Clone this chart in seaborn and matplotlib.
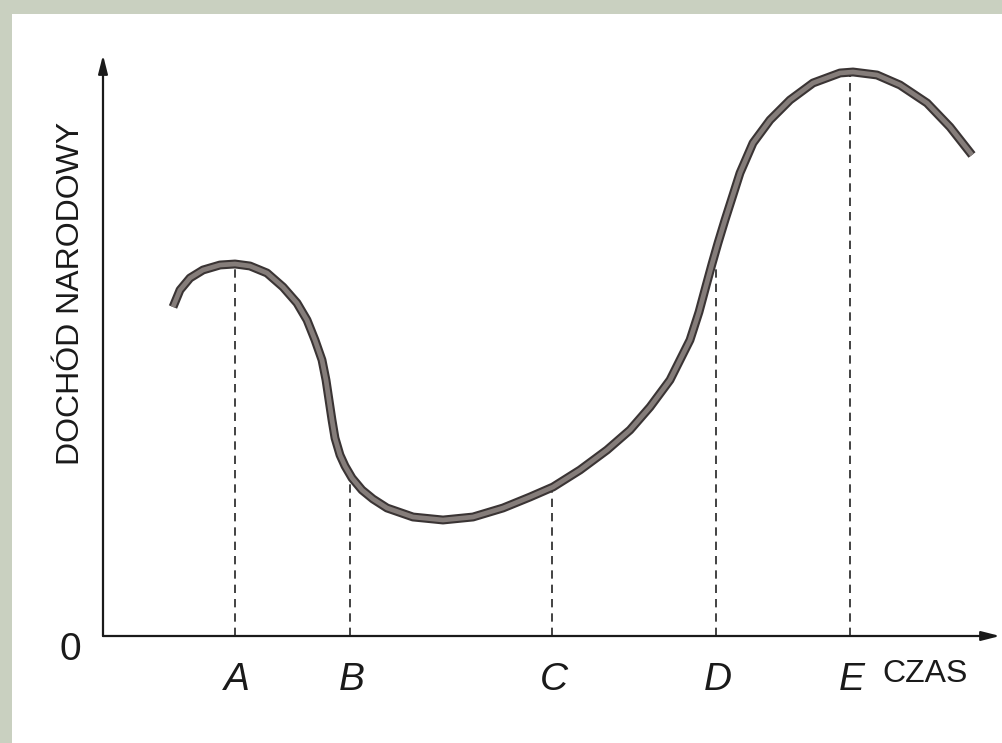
import pandas as pd
import numpy as np
import matplotlib.pyplot as plt
import matplotlib.patheffects as pe
import seaborn as sns

# curve (time -> national income, arbitrary units)
time_pts = [70, 77, 87, 100, 117, 132, 147, 164, 180, 194, 204, 212, 219, 223, 226,
            229, 232, 237, 242, 249, 259, 270, 284, 310, 340, 370, 400, 427, 450, 477,
            504, 527, 547, 567, 587, 596, 603, 609, 615, 622, 630, 637, 650, 667, 687,
            710, 737, 750, 774, 797, 824, 847, 869]
income_pts = [329, 346, 358, 366, 371, 372, 370, 363, 349, 333, 316, 296, 276, 256, 236,
              216, 198, 181, 170, 158, 146, 137, 128, 119, 116, 119, 128, 139, 149, 166,
              186, 206, 229, 256, 296, 324, 350, 372, 393, 416, 441, 463, 493, 516, 536,
              553, 563, 564, 561, 551, 533, 509, 481]

# phase markers
phase_labels = ["A", "B", "C", "D", "E"]
phase_x = [132, 247, 449, 613, 747]
phase_y = [371, 156, 146, 371, 566]

sns.set_style("white")
plt.rcParams["font.family"] = ["Liberation Sans", "DejaVu Sans"]

fig = plt.figure(figsize=(10.03, 7.43), dpi=100, facecolor="#c9d0c0")
ax = fig.add_axes([12 / 1003, 0, 991 / 1003, 729 / 743])
ax.set_facecolor("white")
ax.set_xlim(-91, 900)
ax.set_ylim(-107, 622)
for s in ax.spines.values():
    s.set_visible(False)
ax.set_xticks([])
ax.set_yticks([])

df = pd.DataFrame({"czas": time_pts, "dochod": income_pts})
sns.lineplot(data=df, x="czas", y="dochod", sort=False, ax=ax, color="#857d7a",
             linewidth=3.4, solid_joinstyle="round", solid_capstyle="butt",
             path_effects=[pe.Stroke(linewidth=6.4, foreground="#3a3434"), pe.Normal()],
             zorder=4)
ax.set_xlabel("")
ax.set_ylabel("")

# dashed drop lines
ax.vlines(phase_x, 0, phase_y, colors="#222222", linewidth=1.2,
          linestyles=(0, (5, 3.6)), zorder=2)

# axes with arrows
arrow = dict(arrowstyle="-|>,head_length=1.1,head_width=0.28", color="#1a1a1a",
             lw=1.6, shrinkA=0, shrinkB=0)
ax.annotate("", xy=(0, 581), xytext=(0, 0), arrowprops=arrow, zorder=3)
ax.annotate("", xy=(897, 0), xytext=(0, 0), arrowprops=arrow, zorder=3)

for lab, xv in zip(phase_labels, phase_x):
    ax.text(xv + 2, -44, lab, fontsize=28, style="italic", ha="center", va="center",
            color="#1a1a1a")
ax.text(-33, -14, "0", fontsize=28, ha="center", va="center", color="#1a1a1a")
ax.text(779, -38, "CZAS", fontsize=23, ha="left", va="center", color="#1a1a1a")
ax.text(-32, 343, "DOCHÓD NARODOWY", fontsize=23, rotation=90, ha="center",
        va="center", color="#1a1a1a")

fig.savefig("out.png", dpi=100, facecolor=fig.get_facecolor())
